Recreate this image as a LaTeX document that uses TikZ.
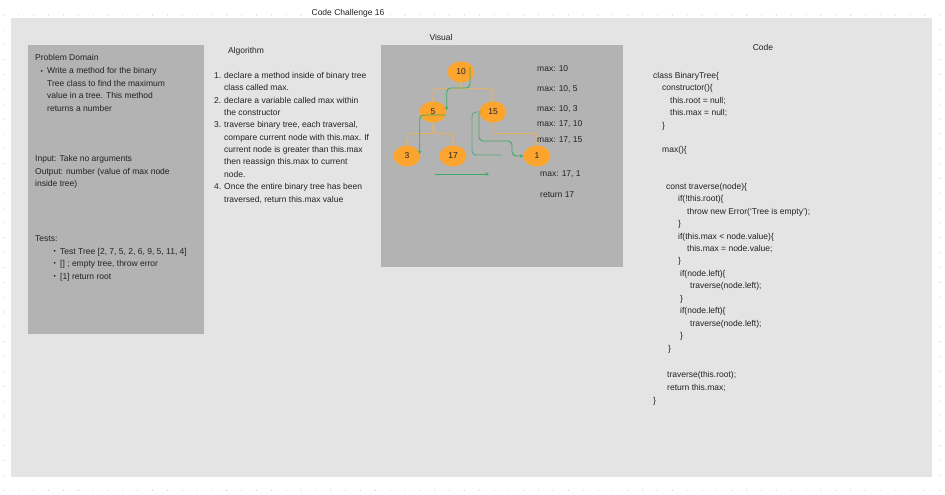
\documentclass[tikz,border=0pt]{standalone}
\usepackage{fontspec}
\setmainfont{Liberation Sans}
\usetikzlibrary{arrows.meta,shapes.geometric}
\definecolor{panel}{HTML}{E4E4E4}
\definecolor{boxc}{HTML}{B3B3B3}
\definecolor{txtc}{HTML}{222222}
\definecolor{orn}{HTML}{FBA42E}
\definecolor{ornl}{HTML}{F4B252}
\definecolor{grn}{HTML}{3DAA66}
\definecolor{dotc}{HTML}{C4C4C4}
\newcommand{\fs}{\fontsize{8.5}{12.4}\selectfont}
\newcommand{\tline}[4]{\node[txt] (#1) at (#2,{#3+3}) {#4};}
\newcommand{\bul}{{\fontsize{6.5}{8}\selectfont •}}
\begin{document}
\begin{tikzpicture}[x=1pt,y=-1pt,
 txt/.style={font=\fs,text=txtc,inner sep=0pt,anchor=base west},
 ctr/.style={font=\fs,text=txtc,inner sep=0pt,anchor=base},
 tnode/.style={ellipse,fill=orn,minimum width=27pt,minimum height=21pt,inner sep=0pt,font=\fs,text=txtc},
 oline/.style={draw=ornl,line width=0.7pt,rounded corners=3pt,-{Stealth[length=3pt,width=3pt]}},
 gline/.style={draw=grn,line width=0.9pt,rounded corners=4pt},
 garrow/.style={gline,-{Stealth[length=3.5pt,width=3.5pt]}}]
\useasboundingbox (0,0) rectangle (945,495);
\fill[white] (0,0) rectangle (945,495);
\foreach \i in {0,...,63} \foreach \j in {0,...,32} \fill[dotc] ({4+14.85*\i},{15+14.85*\j}) circle (0.55pt);
\fill[panel] (11,18) rectangle (932,477);
\fill[boxc] (28,45) rectangle (204,334);
\fill[boxc] (381,45) rectangle (623,267);

% headings
\node[ctr] (title) at (348,16) {Code Challenge 16};
\node[ctr] (halg) at (246,54) {Algorithm};
\node[ctr] (hvis) at (441,41) {Visual};
\node[ctr] (hcode) at (763,51) {Code};

% problem domain
\tline{pd0}{35}{58}{Problem Domain}
\tline{pdb}{40.5}{70.5}{\bul}
\tline{pd1}{47}{71}{Write a method for the binary}
\tline{pd2}{47}{83}{Tree class to find the maximum}
\tline{pd3}{47}{95}{value in a tree. This method}
\tline{pd4}{47}{108}{returns a number}
\tline{in1}{35}{158}{Input: Take no arguments}
\tline{out1}{35}{171}{Output: number (value of max node}
\tline{out2}{35}{183}{inside tree)}
\tline{ts0}{35}{238}{Tests:}
\tline{tsb1}{53.5}{250.5}{\bul}
\tline{ts1}{60}{251}{Test Tree [2, 7, 5, 2, 6, 9, 5, 11, 4]}
\tline{tsb2}{53.5}{262.5}{\bul}
\tline{ts2}{60}{263}{[] ; empty tree, throw error}
\tline{tsb3}{53.5}{275.5}{\bul}
\tline{ts3}{60}{276}{[1] return root}

% algorithm
\tline{an1}{214}{75}{1.}
\tline{a1}{224}{75}{declare a method inside of binary tree}
\tline{a2}{224}{87}{class called max.}
\tline{an2}{214}{100}{2.}
\tline{a3}{224}{100}{declare a variable called max within}
\tline{a4}{224}{112}{the constructor}
\tline{an3}{214}{124}{3.}
\tline{a5}{224}{124}{traverse binary tree, each traversal,}
\tline{a6}{224}{137}{compare current node with this.max. If}
\tline{a7}{224}{149}{current node is greater than this.max}
\tline{a8}{224}{161}{then reassign this.max to current}
\tline{a9}{224}{174}{node.}
\tline{an4}{214}{186}{4.}
\tline{a10}{224}{186}{Once the entire binary tree has been}
\tline{a11}{224}{199}{traversed, return this.max value}

% visual tree
\node[tnode] (n10) at (461,72) {10};
\node[tnode] (n5) at (433,112) {5};
\node[tnode] (n15) at (493,112) {15};
\node[tnode] (n3) at (407,156) {3};
\node[tnode] (n17) at (453,156) {17};
\node[tnode] (n1) at (537,156) {1};

\draw[oline] (n10.south) -- ++(0,6) -| (n5.north);
\draw[oline] (n10.south) -- ++(0,6) -| (n15.north);
\draw[oline] (n5.south) -- ++(0,11) -| (n3.north);
\draw[oline] (n5.south) -- ++(0,11) -| (n17.north);
\draw[oline] (n15.south) -- ++(0,11) -| (n1.north);

\coordinate (g1s) at (470,67);
\draw[garrow] (g1s) -- ++(0,21) -| ([yshift=2pt]n5.east);
\draw[garrow] ([xshift=-1pt,yshift=-3pt]n5.east) -| ([xshift=-1pt,yshift=2pt]n3.east);
\draw[gline,opacity=0.8] ([xshift=-11pt]n15.center) -| ++(-10,43) -- ++(30,0);
\coordinate (g4m) at (512,141);
\draw[garrow] ([xshift=-14pt,yshift=-1pt]n15.center) |- (g4m) |- (n1.west);
\coordinate (g5s) at (435,174);
\coordinate (g5e) at (489,174);
\draw[garrow] (g5s) -- (g5e);

\tline{m1}{537}{68}{max: 10}
\tline{m2}{537}{89}{max: 10, 5}
\tline{m3}{537}{108}{max: 10, 3}
\tline{m4}{537}{123}{max: 17, 10}
\tline{m5}{537}{139}{max: 17, 15}
\tline{m6}{540}{173}{max: 17, 1}
\tline{m7}{540}{194}{return 17}

% code
\tline{c1}{653}{75}{class BinaryTree\{}
\tline{c2}{662}{87}{constructor()\{}
\tline{c3}{670}{100}{this.root = null;}
\tline{c4}{670}{112}{this.max = null;}
\tline{c5}{662}{125}{\}}
\tline{c6}{662}{149}{max()\{}
\tline{c7}{666}{186}{const traverse(node)\{}
\tline{c8}{678}{198}{if(!this.root)\{}
\tline{c9}{687}{211}{throw new Error(`Tree is empty');}
\tline{c10}{678}{223}{\}}
\tline{c11}{678}{236}{if(this.max < node.value)\{}
\tline{c12}{687}{248}{this.max = node.value;}
\tline{c13}{678}{260}{\}}
\tline{c14}{680}{273}{if(node.left)\{}
\tline{c15}{690}{285}{traverse(node.left);}
\tline{c16}{680}{298}{\}}
\tline{c17}{680}{310}{if(node.left)\{}
\tline{c18}{690}{323}{traverse(node.left);}
\tline{c19}{680}{335}{\}}
\tline{c20}{668}{348}{\}}
\tline{c21}{667}{374}{traverse(this.root);}
\tline{c22}{667}{387}{return this.max;}
\tline{c23}{653}{400}{\}}
\end{tikzpicture}
\end{document}
